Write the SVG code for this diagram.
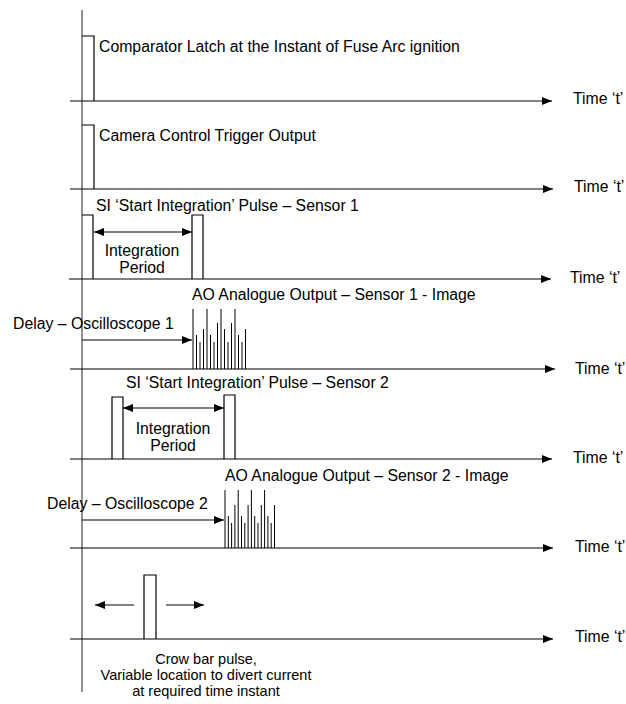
<svg xmlns="http://www.w3.org/2000/svg" width="626" height="704" viewBox="0 0 626 704">
<defs>
<marker id="ah" viewBox="0 0 10 8" refX="10" refY="4" markerWidth="10" markerHeight="8" markerUnits="userSpaceOnUse" orient="auto-start-reverse">
<path d="M0,0 L10,4 L0,8 Z" fill="#000"/>
</marker>
<style>
text{font-family:"Liberation Sans",Arial,sans-serif;font-size:15.8px;fill:#000}
.sm{font-size:14.5px}
.ln{stroke:#222;stroke-width:1;fill:none}
.p{stroke:#000;stroke-width:1.2;fill:none}
.sp{stroke:#000;stroke-width:1}
.ar{stroke:#000;stroke-width:1;fill:none;marker-end:url(#ah)}
.da{stroke:#000;stroke-width:1;fill:none;marker-start:url(#ah);marker-end:url(#ah)}
.c{text-anchor:middle}
</style>
</defs>
<g id="axes">
<line class="ln" x1="82" y1="10" x2="82" y2="692"/>
</g>
<g id="connectors">
<line class="ar" x1="70" y1="101" x2="552" y2="101"/>
<line class="ar" x1="70" y1="189" x2="553" y2="189"/>
<line class="ar" x1="69" y1="279" x2="551" y2="279"/>
<line class="ar" x1="70" y1="369" x2="555" y2="369"/>
<line class="ar" x1="70" y1="459" x2="552" y2="459"/>
<line class="ar" x1="70" y1="548" x2="553" y2="548"/>
<line class="ar" x1="70" y1="639" x2="553" y2="639"/>
<line class="da" x1="94" y1="232" x2="192" y2="232"/>
<line class="da" x1="123" y1="408" x2="224" y2="408"/>
<line class="ar" x1="82" y1="340" x2="192" y2="340"/>
<line class="ar" x1="82" y1="520" x2="224" y2="520"/>
<line class="ar" x1="134" y1="605" x2="95" y2="605"/>
<line class="ar" x1="166" y1="605" x2="204" y2="605"/>
</g>
<g id="row1">
<polyline class="p" points="82,36 94,36 94,101"/>
<text x="99" y="52">Comparator Latch at the Instant of Fuse Arc ignition</text>
<text x="573" y="104">Time ‘t’</text>
</g>
<g id="row2">
<polyline class="p" points="82,125 94,125 94,189"/>
<text x="99" y="141">Camera Control Trigger Output</text>
<text x="574" y="192">Time ‘t’</text>
</g>
<g id="row3">
<polyline class="p" points="82,215 93,215 93,279"/>
<polyline class="p" points="192,279 192,215 203,215 203,279"/>
<text x="96" y="211">SI ‘Start Integration’ Pulse – Sensor 1</text>
<text class="c" x="142" y="256">Integration</text>
<text class="c" x="142" y="273">Period</text>
<text x="570" y="283">Time ‘t’</text>
</g>
<g id="row4">
<text x="192" y="300">AO Analogue Output – Sensor 1 - Image</text>
<text x="13" y="329">Delay – Oscilloscope 1</text>
<g class="sp">
<line x1="193" y1="369" x2="193" y2="309"/>
<line x1="196.5" y1="369" x2="196.5" y2="335"/>
<line x1="200" y1="369" x2="200" y2="342"/>
<line x1="203.5" y1="369" x2="203.5" y2="329"/>
<line x1="207" y1="369" x2="207" y2="309"/>
<line x1="210.5" y1="369" x2="210.5" y2="335"/>
<line x1="214" y1="369" x2="214" y2="342"/>
<line x1="217.5" y1="369" x2="217.5" y2="323"/>
<line x1="221" y1="369" x2="221" y2="309"/>
<line x1="224.5" y1="369" x2="224.5" y2="329"/>
<line x1="228" y1="369" x2="228" y2="342"/>
<line x1="231.5" y1="369" x2="231.5" y2="323"/>
<line x1="235" y1="369" x2="235" y2="309"/>
<line x1="238.5" y1="369" x2="238.5" y2="335"/>
<line x1="242" y1="369" x2="242" y2="342"/>
<line x1="245.5" y1="369" x2="245.5" y2="329"/>
</g>
<text x="575" y="374">Time ‘t’</text>
</g>
<g id="row5">
<polyline class="p" points="112,459 112,397 123,397 123,459"/>
<polyline class="p" points="224,459 224,395 235,395 235,459"/>
<text x="126" y="388">SI ‘Start Integration’ Pulse – Sensor 2</text>
<text class="c" x="173" y="434">Integration</text>
<text class="c" x="173" y="451">Period</text>
<text x="573" y="463">Time ‘t’</text>
</g>
<g id="row6">
<text x="225" y="481">AO Analogue Output – Sensor 2 - Image</text>
<text x="47" y="509">Delay – Oscilloscope 2</text>
<g class="sp">
<line x1="225" y1="548" x2="225" y2="490"/>
<line x1="228.3" y1="548" x2="228.3" y2="516"/>
<line x1="231.6" y1="548" x2="231.6" y2="523"/>
<line x1="234.9" y1="548" x2="234.9" y2="505"/>
<line x1="238.2" y1="548" x2="238.2" y2="490"/>
<line x1="241.5" y1="548" x2="241.5" y2="516"/>
<line x1="244.8" y1="548" x2="244.8" y2="523"/>
<line x1="248.1" y1="548" x2="248.1" y2="505"/>
<line x1="251.4" y1="548" x2="251.4" y2="490"/>
<line x1="254.7" y1="548" x2="254.7" y2="516"/>
<line x1="258" y1="548" x2="258" y2="523"/>
<line x1="261.3" y1="548" x2="261.3" y2="505"/>
<line x1="264.6" y1="548" x2="264.6" y2="490"/>
<line x1="267.9" y1="548" x2="267.9" y2="516"/>
<line x1="271.2" y1="548" x2="271.2" y2="523"/>
<line x1="274.5" y1="548" x2="274.5" y2="505"/>
</g>
<text x="575" y="552">Time ‘t’</text>
</g>
<g id="row7">
<polyline class="p" points="144,639 144,575 156,575 156,639"/>
<text x="575" y="642">Time ‘t’</text>
<text class="c sm" x="206" y="664">Crow bar pulse,</text>
<text class="c sm" x="206" y="680">Variable location to divert current</text>
<text class="c sm" x="206" y="696">at required time instant</text>
</g>
</svg>
